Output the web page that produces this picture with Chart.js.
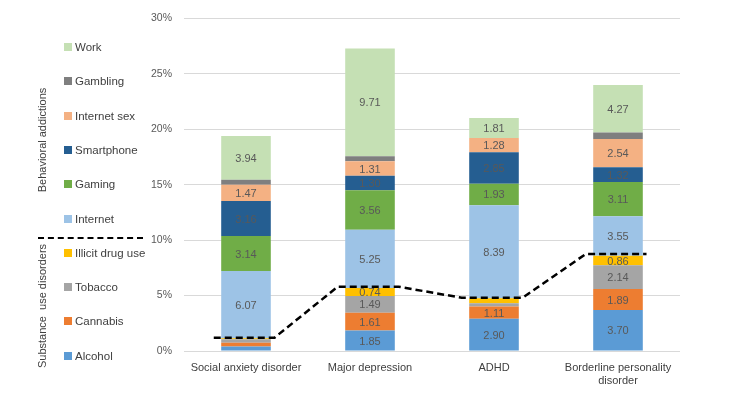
<!DOCTYPE html>
<html>
<head>
<meta charset="utf-8">
<script src="https://cdn.jsdelivr.net/npm/chart.js@4"></script>
<style>
  html, body { margin: 0; padding: 0; background: #fff; }
  #wrap { position: relative; width: 756px; height: 397px; font-family: "Liberation Sans", Arial, sans-serif; }
  #chart { position: absolute; left: 0; top: 0; }
  .item { position: absolute; left: 64px; font-size: 11.5px; color: #404040; line-height: 14px; white-space: nowrap; }
  .item i { display: inline-block; width: 8px; height: 8px; margin-right: 3px; vertical-align: 0px; }
  .group { position: absolute; font-size: 11px; color: #404040; white-space: pre; transform: translate(-50%, -50%) rotate(-90deg); }
  #sep { position: absolute; left: 38px; top: 237px; width: 105px; border-top: 2.5px dashed #000; }
</style>
</head>
<body>
<div id="wrap">
  <canvas id="chart" width="756" height="397"></canvas>
  <div class="group" style="left:42px; top:140px;">Behavioral addictions</div>
  <div class="group" style="left:42px; top:306px;">Substance  use disorders</div>
  <div id="sep"></div>
</div>
<script>
// categories and series (percent of patients)
const categories = ['Social anxiety disorder', 'Major depression', 'ADHD', ['Borderline personality', 'disorder']];

const alcohol        = [0.40, 1.85, 2.90, 3.70];
const cannabis       = [0.35, 1.61, 1.11, 1.89];
const tobacco        = [0.30, 1.49, 0.30, 2.14];
const illicitDrugUse = [0.10, 0.74, 0.45, 0.86];
const internet       = [6.07, 5.25, 8.39, 3.55];
const gaming         = [3.14, 3.56, 1.93, 3.11];
const smartphone     = [3.16, 1.30, 2.85, 1.32];
const internetSex    = [1.47, 1.31, 1.28, 2.54];
const gambling       = [0.45, 0.45, 0.00, 0.60];
const work           = [3.94, 9.71, 1.81, 4.27];

// level of the substance / behavioral split
const substanceTotal = [1.2, 5.8, 4.8, 8.75];

const yMax = 30;
const yStep = 5;

// series from bottom of the stack to top
const series = [
  { label: 'Alcohol',          data: alcohol,        color: '#5b9bd5' },
  { label: 'Cannabis',         data: cannabis,       color: '#ed7d31' },
  { label: 'Tobacco',          data: tobacco,        color: '#a5a5a5' },
  { label: 'Illicit drug use', data: illicitDrugUse, color: '#ffc000' },
  { label: 'Internet',         data: internet,       color: '#9dc3e6' },
  { label: 'Gaming',           data: gaming,         color: '#70ad47' },
  { label: 'Smartphone',       data: smartphone,     color: '#255e91' },
  { label: 'Internet sex',     data: internetSex,    color: '#f4b183' },
  { label: 'Gambling',         data: gambling,       color: '#7f7f7f' },
  { label: 'Work',             data: work,           color: '#c5e0b4' }
];

/**
 * Legend on the left, top item first
 */
function buildLegend() {
  const wrap = document.getElementById('wrap');
  series.slice().reverse().forEach((s, k) => {
    const el = document.createElement('div');
    el.className = 'item';
    el.style.top = (40 + k * 34.3) + 'px';
    el.innerHTML = '<i style="background:' + s.color + '"></i>' + s.label;
    wrap.appendChild(el);
  });
}
buildLegend();

// values written in the middle of each segment
const segmentLabels = {
  id: 'segmentLabels',
  afterDatasetDraw(chart, args) {
    const ds = chart.data.datasets[args.index];
    if (ds.type === 'line') return;
    const ctx = chart.ctx;
    ctx.save();
    ctx.font = '11px "Liberation Sans", Arial, sans-serif';
    ctx.fillStyle = '#595959';
    ctx.textAlign = 'center';
    ctx.textBaseline = 'middle';
    args.meta.data.forEach((bar, i) => {
      const v = ds.data[i].y;
      if (v < 0.7) return;
      ctx.fillText(v.toFixed(2), bar.x, (bar.y + bar.base) / 2 + 1);
    });
    ctx.restore();
  }
};

// bars and the split line share one numeric x axis (category i sits at x = i)
const datasets = series.map(s => ({
  type: 'bar',
  label: s.label,
  data: s.data.map((v, i) => ({ x: i, y: v })),
  backgroundColor: s.color,
  borderWidth: 0,
  stack: 'bars',
  order: 1,
  categoryPercentage: 1,
  barPercentage: 0.4
}));

datasets.push({
  type: 'line',
  label: 'split',
  stack: 'line',
  order: 0,
  data: substanceTotal.flatMap((t, i) => [{ x: i - 0.26, y: t }, { x: i + 0.23, y: t }]),
  borderColor: '#000',
  borderWidth: 2.5,
  borderDash: [7, 4],
  pointRadius: 0,
  tension: 0,
  fill: false
});

new Chart(document.getElementById('chart'), {
  type: 'bar',
  data: { datasets },
  options: {
    responsive: false,
    animation: false,
    layout: { padding: { left: 0, right: 76, top: 15, bottom: 0 } },
    plugins: { legend: { display: false }, tooltip: { enabled: false } },
    scales: {
      x: {
        type: 'linear',
        offset: false,
        min: -0.5,
        max: categories.length - 0.5,
        stacked: true,
        grid: { display: false, drawTicks: false },
        border: { display: false },
        afterBuildTicks(scale) {
          scale.ticks = categories.map((c, i) => ({ value: i }));
        },
        ticks: {
          autoSkip: false,
          padding: 10,
          color: '#404040',
          font: { family: '"Liberation Sans", Arial, sans-serif', size: 11 },
          maxRotation: 0,
          callback: v => categories[v] || ''
        },
        afterFit(scale) { scale.height = 46; }
      },
      y: {
        stacked: true,
        min: 0,
        max: yMax,
        grid: { color: '#d9d9d9', drawTicks: false, lineWidth: 1 },
        border: { display: false },
        ticks: {
          stepSize: yStep,
          padding: 12,
          color: '#595959',
          font: { family: '"Liberation Sans", Arial, sans-serif', size: 10.5 },
          callback: v => v + '%'
        },
        afterFit(scale) { scale.width = 184; }
      }
    }
  },
  plugins: [segmentLabels]
});
</script>
</body>
</html>
